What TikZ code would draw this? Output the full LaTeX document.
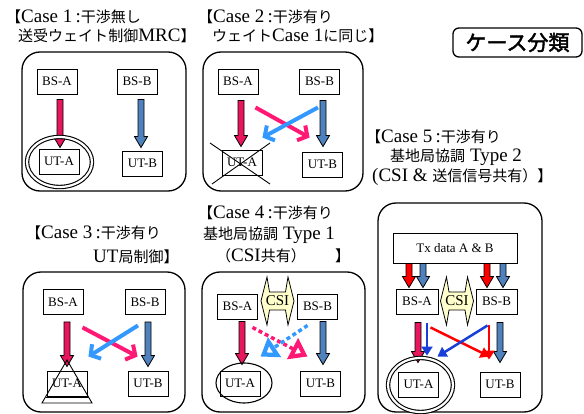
\documentclass[tikz,border=0pt]{standalone}
\usepackage{fontspec}
\setmainfont{Liberation Serif}
\newfontfamily\jp[AutoFakeBold=2]{Noto Sans CJK JP}
\newfontfamily\jpt[Scale=0.79]{Noto Sans CJK JP}
\usetikzlibrary{arrows.meta,calc}
\definecolor{pinkA}{HTML}{E8175D}
\definecolor{steel}{HTML}{4F81BD}
\definecolor{hotpink}{HTML}{FF1975}
\definecolor{lblue}{HTML}{3399FF}
\definecolor{vblue}{HTML}{1A3FD9}
\definecolor{pureRed}{HTML}{FF0000}
\definecolor{csiy}{HTML}{FFFFCC}
\tikzset{
  bx/.style={draw, line width=0.9pt, minimum width=40pt, minimum height=25pt, inner sep=1pt, font=\fontsize{13}{13}\selectfont},
  casebox/.style={draw, line width=1.3pt, rounded corners=18pt},
  ttl/.style={anchor=west, inner sep=0pt, font=\fontsize{19}{20}\selectfont},
  blkl/.style={draw=black, line width=0.8pt},
  thk/.style={line width=4pt, -{Straight Barb[length=7pt, width=17pt]}},
  dotarr/.style={line width=3.5pt, dash pattern=on 4pt off 3pt, -{Triangle[open, length=17pt, width=23pt, line width=4.5pt]}},
  thin/.style={line width=2.5pt, -{Triangle[length=9pt, width=11pt]}},
  dbl/.style={draw, line width=1.1pt, double=white, double distance=2.2pt},
}
% block arrow: colour, from node, to node, x offset, start gap, end gap
\newcommand{\blk}[6]{%
  \coordinate (s) at ($(#2.south)+(#4,#5)$);
  \coordinate (e) at ($(s |- #3.north)+(0,{-1*(#6)})$);
  \draw[blkl, fill=#1] ($(s)+(-3,0)$) -- ($(e)+(-3,-11)$) -- ($(e)+(-6.5,-11)$) -- (e)
     -- ($(e)+(6.5,-11)$) -- ($(e)+(3,-11)$) -- ($(s)+(3,0)$) -- cycle;}
% CSI double arrow
\newcommand{\csiarrow}[2]{%
  \coordinate (#1) at (#2);
  \draw[line width=0.8pt, fill=csiy] ($(#1)+(-16.5,0)$) -- ($(#1)+(-10.5,-24)$) -- ($(#1)+(-8,-9)$)
     -- ($(#1)+(8,-9)$) -- ($(#1)+(10.5,-24)$) -- ($(#1)+(16.5,0)$) -- ($(#1)+(10.5,24)$)
     -- ($(#1)+(8,9)$) -- ($(#1)+(-8,9)$) -- ($(#1)+(-10.5,24)$) -- cycle;
  \node[inner sep=0pt, font=\fontsize{15}{15}\selectfont] at (#1) {CSI};}
\begin{document}
\begin{tikzpicture}[x=1pt, y=-1pt]
\useasboundingbox (0,0) rectangle (584,414);

% ---------- titles ----------
\node[ttl] (t1a) at (6,17) {{\jpt 【}Case 1\,:{\jpt 干渉無し}};
\node[ttl] (t1b) at (18,36) {{\jpt 送受ウェイト制御}MRC{\jpt 】}};
\node[ttl] (t2a) at (198,17) {{\jpt 【}Case 2\,:{\jpt 干渉有り}};
\node[ttl] (t2b) at (212,36) {{\jpt ウェイト}Case 1{\jpt に同じ】}};
\node[ttl] (t3a) at (26,233) {{\jpt 【}Case 3\,:{\jpt 干渉有り}};
\node[ttl] (t3b) at (93,257) {UT{\jpt 局制御】}};
\node[ttl] (t4a) at (198,213) {{\jpt 【}Case 4\,:{\jpt 干渉有り}};
\node[ttl] (t4b) at (203,235) {{\jpt 基地局協調} Type 1};
\node[ttl] (t4c) at (216,256) {{\jpt （}CSI{\jpt 共有）}};
\node[ttl] (t4d) at (335,256) {{\jpt 】}};
\node[ttl] (t5a) at (366,137) {{\jpt 【}Case 5\,:{\jpt 干渉有り}};
\node[ttl] (t5b) at (390,157) {{\jpt 基地局協調} Type 2};
\node[ttl] (t5c) at (372,177) {(CSI \& {\jpt 送信信号共有）】}};

\node[draw, line width=1.3pt, rounded corners=6pt, minimum width=129pt, minimum height=29pt, inner sep=0pt,
      font=\fontsize{21}{21}\selectfont] (kb) at (517.5,42.5) {{\jp\bfseries ケース分類}};

% ---------- case boxes ----------
\draw[casebox] (22,52) rectangle (186,191);
\draw[casebox] (203,52) rectangle (363,191);
\draw[casebox] (23,272) rectangle (185,412);
\draw[casebox] (202,272) rectangle (365,412);
\draw[casebox] (378,203) rectangle (542,412);

% ---------- Case 1 ----------
\node[bx] (bsa1) at (57,81.5) {BS-A};
\node[bx] (bsb1) at (137,81.5) {BS-B};
\node[bx] (uta1) at (59,161.5) {UT-A};
\node[bx] (utb1) at (142.5,163.5) {UT-B};
\blk{pinkA}{bsa1}{uta1}{3}{5}{1}
\blk{steel}{bsb1}{utb1}{4}{5}{3}
\draw[dbl] (59.5,162) ellipse [x radius=32.5, y radius=25];

% ---------- Case 2 ----------
\node[bx] (bsa2) at (238,81.5) {BS-A};
\node[bx] (bsb2) at (319.5,81.5) {BS-B};
\node[bx] (uta2) at (242,162.5) {UT-A};
\node[bx] (utb2) at (322.5,164.5) {UT-B};
\blk{pinkA}{bsa2}{uta2}{3}{6}{3}
\blk{steel}{bsb2}{utb2}{3.5}{6}{5}
\draw[thk, hotpink] ($(bsa2.south east)+(-3,13)$) -- ($(utb2.north west)+(7.5,-14)$);
\draw[thk, lblue] ($(bsb2.south)+(-1.5,13)$) -- ($(uta2.north east)+(0,-12)$);
\draw[line width=0.9pt] ($(uta2)+(-32,-19.5)$) -- ($(uta2)+(28,21.5)$);
\draw[line width=0.9pt] ($(uta2)+(28,-19.5)$) -- ($(uta2)+(-30,21.5)$);

% ---------- Case 3 ----------
\node[bx] (bsa3) at (63,302) {BS-A};
\node[bx] (bsb3) at (145,302) {BS-B};
\node[bx] (uta3) at (67,383.5) {UT-A};
\node[bx] (utb3) at (148,383.5) {UT-B};
\blk{pinkA}{bsa3}{uta3}{4}{7}{4}
\blk{steel}{bsb3}{utb3}{3}{7}{4}
\draw[thk, hotpink] ($(bsa3.south east)+(-1,12.5)$) -- ($(utb3.north west)+(10,-14)$);
\draw[thk, lblue] ($(bsb3.south)+(-7,10.5)$) -- ($(uta3.north east)+(1,-14)$);
\draw[line width=0.9pt] ($(uta3)+(0,-23.5)$) -- ($(uta3)+(-25,19.5)$) -- ($(uta3)+(25,19.5)$) -- cycle;
\draw[line width=0.9pt] ($(uta3)+(-21.5,13.5)$) -- ($(uta3)+(21.5,13.5)$);

% ---------- Case 4 ----------
\node[bx] (bsa4) at (237.5,306.5) {BS-A};
\node[bx] (bsb4) at (317.5,306.5) {BS-B};
\node[bx] (uta4) at (240,383.5) {UT-A};
\node[bx] (utb4) at (320.5,383.5) {UT-B};
\csiarrow{csi4}{277.5,301}
\blk{pinkA}{bsa4}{uta4}{4.5}{2}{6}
\blk{steel}{bsb4}{utb4}{5.5}{2}{6}
\draw[dotarr, hotpink] ($(bsa4.south east)+(-5.5,8)$) -- ($(utb4.north west)+(7.5,-14)$);
\draw[dotarr, lblue] ($(bsb4.south west)+(10.5,6)$) -- ($(uta4.north east)+(0,-14)$);
\draw[line width=1.1pt] (244,383) ellipse [x radius=28, y radius=20];

% ---------- Case 5 ----------
\node[bx, minimum width=124pt, minimum height=30pt] (tx) at (455,248) {Tx data A \& B};
\node[bx, minimum width=42pt] (bsa5) at (417,301.5) {BS-A};
\node[bx, minimum width=41pt] (bsb5) at (496.5,301.5) {BS-B};
\node[bx] (uta5) at (418.5,384.5) {UT-A};
\node[bx] (utb5) at (500,384.5) {UT-B};
\csiarrow{csi5}{457,301}
\blk{pureRed}{tx}{bsa5}{-46}{0}{1}
\blk{steel}{tx}{bsa5}{-32}{0}{1}
\blk{pureRed}{tx}{bsb5}{32}{0}{1}
\blk{steel}{tx}{bsb5}{48}{0}{1}
\blk{pinkA}{bsa5}{uta5}{1}{8}{9}
\blk{steel}{bsb5}{utb5}{3.5}{8}{9}
\coordinate (v1) at ($(bsa5.south)+(10,9)$);
\draw[thin, vblue] (v1) -- ($(v1 |- uta5.north)+(0,-16)$);
\draw[thin, pureRed] ($(bsa5.south east)+(-8,13)$) -- ($(utb5.north west)+(10,-15)$);
\draw[thin, vblue] ($(bsb5.south west)+(12,11)$) -- ($(uta5.north east)+(-1.5,-15)$);
\coordinate (r1) at ($(bsb5.south)+(-7.5,11)$);
\draw[thin, pureRed] (r1) -- ($(r1 |- utb5.north)+(0,-12)$);
\draw[dbl] (420.5,385) ellipse [x radius=32.5, y radius=27];
\end{tikzpicture}
\end{document}
